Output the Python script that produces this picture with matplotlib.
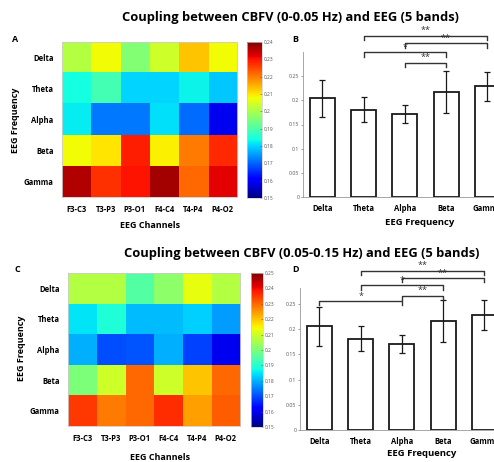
import numpy as np
import matplotlib
matplotlib.use("Agg")
import matplotlib.pyplot as plt

plt.rcParams['font.family'] = ['Open Sans', 'DejaVu Sans']

W, H = 494, 462

# ---- data ----
bands = ['Delta', 'Theta', 'Alpha', 'Beta', 'Gamma']
channels = ['F3-C3', 'T3-P3', 'P3-O1', 'F4-C4', 'T4-P4', 'P4-O2']

# heatmap A: CBFV 0-0.05 Hz (rows = bands, cols = channels)
heat_a = np.array([
    [0.201, 0.208, 0.196, 0.204, 0.213, 0.208],
    [0.184, 0.189, 0.180, 0.180, 0.183, 0.179],
    [0.182, 0.172, 0.172, 0.181, 0.171, 0.159],
    [0.208, 0.210, 0.229, 0.209, 0.220, 0.228],
    [0.236, 0.227, 0.230, 0.237, 0.222, 0.232],
])
# heatmap C: CBFV 0.05-0.15 Hz
heat_c = np.array([
    [0.207, 0.207, 0.195, 0.202, 0.213, 0.207],
    [0.185, 0.189, 0.181, 0.181, 0.183, 0.178],
    [0.180, 0.170, 0.171, 0.180, 0.169, 0.160],
    [0.200, 0.210, 0.230, 0.210, 0.220, 0.230],
    [0.235, 0.228, 0.230, 0.236, 0.224, 0.231],
])

# bar charts (mean, sd)
mean_b = [0.204, 0.181, 0.172, 0.217, 0.229]
err_b = [0.039, 0.025, 0.019, 0.043, 0.030]
mean_d = [0.206, 0.181, 0.171, 0.217, 0.229]
err_d = [0.039, 0.025, 0.018, 0.042, 0.030]

# significance comparisons: (i, j, label)
sig_b = [(1, 4, '**'), (2, 4, '**'), (1, 3, '*'), (2, 3, '**')]
sig_d = [(1, 4, '**'), (2, 4, '**'), (1, 3, '*'), (2, 3, '**'), (0, 2, '*')]


def box(x0, y0, x1, y1):
    return [x0 / W, 1 - y1 / H, (x1 - x0) / W, (y1 - y0) / H]


fig = plt.figure(figsize=(W / 100, H / 100), dpi=100)


def heatmap(rect, cbrect, data, vmin, vmax, ticks):
    ax = fig.add_axes(rect)
    im = ax.imshow(data, cmap='jet', vmin=vmin, vmax=vmax, aspect='auto',
                   interpolation='nearest')
    ax.set_xticks(range(len(channels)))
    ax.set_xticklabels(channels, fontsize=5.5, fontweight='bold')
    ax.set_yticks(range(len(bands)))
    ax.set_yticklabels(bands, fontsize=5.5, fontweight='bold')
    ax.tick_params(length=0, pad=6)
    for s in ax.spines.values():
        s.set_color('#cccccc')
        s.set_linewidth(0.6)
    cax = fig.add_axes(cbrect)
    cb = fig.colorbar(im, cax=cax, ticks=ticks)
    cb.ax.set_yticklabels(['%g' % t for t in ticks])
    cb.ax.tick_params(labelsize=3.5, length=1.5, width=0.4, colors='#555555',
                      pad=1, direction='in')
    cb.outline.set_edgecolor('#cccccc')
    cb.outline.set_linewidth(0.5)
    return ax


def barpanel(rect, means, errs, ytop, sigs, levels, drop):
    ax = fig.add_axes(rect)
    x = np.arange(len(bands))
    ax.bar(x, means, width=0.61, color='white', edgecolor='#1a1a1a',
           linewidth=1.3)
    ax.errorbar(x, means, yerr=errs, fmt='none', ecolor='#1a1a1a',
                elinewidth=0.9, capsize=2, capthick=0.9)
    ax.set_xlim(-0.47, 4.55)
    ax.set_ylim(0, ytop)
    ax.set_yticks([0, 0.05, 0.1, 0.15, 0.2, 0.25])
    ax.set_yticklabels(['0', '0.05', '0.1', '0.15', '0.2', '0.25'])
    ax.tick_params(axis='y', labelsize=3.8, length=1.5, width=0.4,
                   colors='#555555', pad=1)
    ax.set_xticks(x)
    ax.set_xticklabels(bands, fontsize=5.5, fontweight='bold')
    ax.tick_params(axis='x', length=0, pad=5)
    for s in ['top', 'right']:
        ax.spines[s].set_visible(False)
    for s in ['left', 'bottom']:
        ax.spines[s].set_color('#999999')
        ax.spines[s].set_linewidth(0.6)
    for (i, j, lab), lv in zip(sigs, levels):
        ax.plot([i, i, j, j], [lv - drop, lv, lv, lv - drop], color='#333333',
                lw=1.0, clip_on=False)
        ax.text((i + j) / 2, lv + 0.001, lab, ha='center', va='bottom',
                fontsize=6.5, color='#333333', clip_on=False)
    return ax


# ---- top row ----
heatmap(box(62, 42, 237, 197), box(247, 42, 262, 198), heat_a, 0.15, 0.24,
        [0.15, 0.16, 0.17, 0.18, 0.19, 0.2, 0.21, 0.22, 0.23, 0.24])
fig.text(290 / W, 1 - 18 / H, 'Coupling between CBFV (0-0.05 Hz) and EEG (5 bands)',
         ha='center', va='center', fontsize=9.3, fontweight='bold')
fig.text(15 / W, 1 - 39 / H, 'A', ha='center', va='center', fontsize=6.5,
         fontweight='bold')
fig.text(295 / W, 1 - 39 / H, 'B', ha='center', va='center', fontsize=6.5,
         fontweight='bold')
fig.text(15 / W, 1 - 120 / H, 'EEG Frequency', rotation=90, ha='center',
         va='center', fontsize=6.5, fontweight='bold')
fig.text(150 / W, 1 - 226 / H, 'EEG Channels', ha='center', va='center',
         fontsize=6.5, fontweight='bold')
barpanel(box(303, 52, 510, 197), mean_b, err_b, 0.30, sig_b,
         [0.334, 0.318, 0.299, 0.278], 0.009)
fig.text(420 / W, 1 - 223 / H, 'EEG Frequency', ha='center', va='center',
         fontsize=6.8, fontweight='bold')

# ---- bottom row ----
heatmap(box(68, 273, 240, 426), box(251, 273, 263, 427), heat_c, 0.15, 0.25,
        [0.15, 0.16, 0.17, 0.18, 0.19, 0.2, 0.21, 0.22, 0.23, 0.24, 0.25])
fig.text(302 / W, 1 - 253 / H,
         'Coupling between CBFV (0.05-0.15 Hz) and EEG (5 bands)',
         ha='center', va='center', fontsize=9.3, fontweight='bold')
fig.text(17 / W, 1 - 269 / H, 'C', ha='center', va='center', fontsize=6.5,
         fontweight='bold')
fig.text(295 / W, 1 - 269 / H, 'D', ha='center', va='center', fontsize=6.5,
         fontweight='bold')
fig.text(21 / W, 1 - 348 / H, 'EEG Frequency', rotation=90, ha='center',
         va='center', fontsize=6.5, fontweight='bold')
fig.text(160 / W, 1 - 458 / H, 'EEG Channels', ha='center', va='center',
         fontsize=6.5, fontweight='bold')
barpanel(box(300, 288, 507, 430), mean_d, err_d, 0.282, sig_d,
         [0.316, 0.302, 0.287, 0.267, 0.256], 0.008)
fig.text(422 / W, 1 - 454 / H, 'EEG Frequency', ha='center', va='center',
         fontsize=6.8, fontweight='bold')

fig.savefig('out.png', dpi=100)
